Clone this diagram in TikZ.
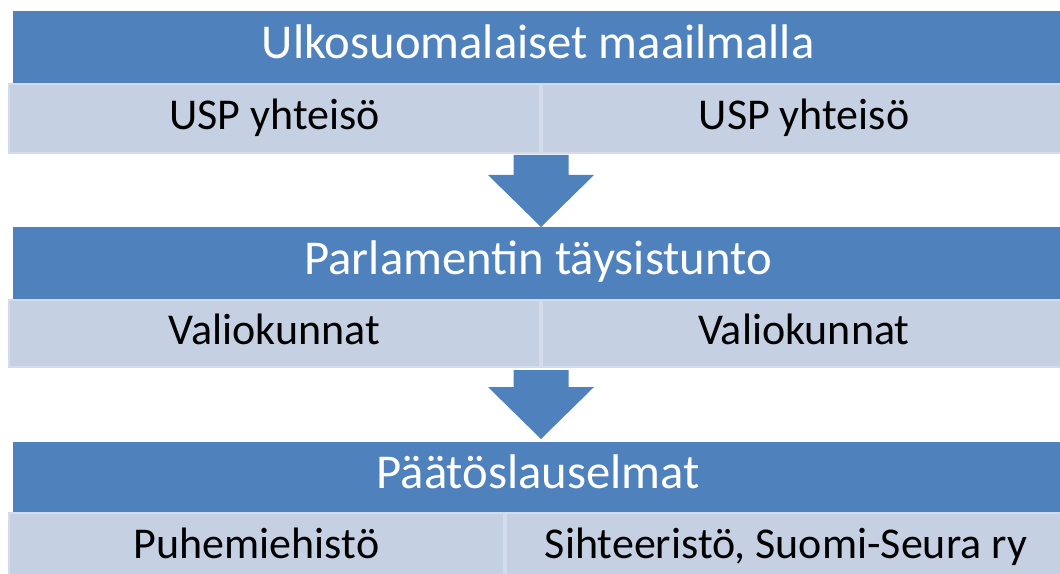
\documentclass[tikz,border=0pt]{standalone}
\usepackage{fontspec}
\setmainfont{Carlito}
\usetikzlibrary{calc,positioning}

\definecolor{barblue}{RGB}{79,129,189}
\definecolor{celllight}{RGB}{197,208,227}
\definecolor{celledge}{RGB}{212,220,235}

% block arrow pointing down, from (#1) to the tip (#2)
\newcommand{\blockarrow}[2]{%
  \fill[barblue] ($(#1)+(-27.5,0)$) -- ($(#1)+(27.5,0)$) -- ($(#2)+(27.5,-52)$)
    -- ($(#2)+(53,-52)$) -- (#2) -- ($(#2)+(-53,-52)$) -- ($(#2)+(-27.5,-52)$) -- cycle;}

\begin{document}
\begin{tikzpicture}[x=0.75pt,y=-0.75pt,
    bar/.style={fill=barblue,text=white,font=\fontsize{36.5}{40}\selectfont,
      text height=26.3pt,text depth=8.8pt,
      inner sep=0pt,minimum width=787.5pt,anchor=north west},
    cell/.style={fill=celllight,draw=celledge,line width=1.5pt,
      font=\fontsize{33}{36}\selectfont,text height=23.8pt,text depth=7.9pt,
      inner sep=0pt}]
  \clip (0,0) rectangle (1060,574);
  \useasboundingbox (0,0) rectangle (1060,574);

  % first level
  \node[bar,minimum height=54pt] (ulko) at (13,11) {Ulkosuomalaiset maailmalla};
  \node[cell,minimum width=398.25pt,minimum height=51.75pt,anchor=north west] (usp1) at (8,83) {USP yhteisö};
  \node[cell,minimum width=393pt,minimum height=51.75pt,right=0pt of usp1] (usp2) {USP yhteisö};

  % second level
  \node[bar,minimum height=54pt] (parl) at (13,227) {Parlamentin täysistunto};
  \node[cell,minimum width=398.25pt,minimum height=50.25pt,anchor=north west] (val1) at (8,299) {Valiokunnat};
  \node[cell,minimum width=393pt,minimum height=50.25pt,right=0pt of val1] (val2) {Valiokunnat};

  % third level
  \node[bar,minimum height=52.5pt] (paat) at (13,442) {Päätöslauselmat};
  \node[cell,minimum width=371.25pt,minimum height=51.75pt,anchor=north west] (puhe) at (8,512) {Puhemiehistö};
  \node[cell,minimum width=420pt,minimum height=51.75pt,right=0pt of puhe] (siht) {Sihteeristö, Suomi-Seura ry};

  % arrows between levels
  \coordinate (a1) at ($(usp1.south east)+(0,1)$);
  \coordinate (b1) at (a1 |- parl.north);
  \blockarrow{a1}{b1}
  \coordinate (a2) at ($(val1.south east)+(0,2)$);
  \coordinate (b2) at ($(a2 |- paat.north)+(0,-3)$);
  \blockarrow{a2}{b2}
\end{tikzpicture}
\end{document}
